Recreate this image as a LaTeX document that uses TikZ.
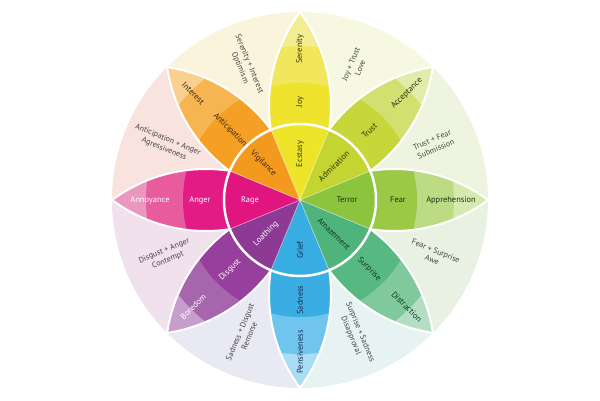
\documentclass[tikz,border=0pt]{standalone}
\usepackage{fontspec}
\setmainfont{PT Sans}

% Farben der Blütenblätter (1 = innen, 4 = Spitze)
\definecolor{joy1}{HTML}{EEE52A}\definecolor{joy2}{HTML}{F0E32E}\definecolor{joy3}{HTML}{F2E65C}\definecolor{joy4}{HTML}{F4EC93}
\definecolor{trust1}{HTML}{C4D430}\definecolor{trust2}{HTML}{C6D63B}\definecolor{trust3}{HTML}{D2E070}\definecolor{trust4}{HTML}{E2ECAA}
\definecolor{fear1}{HTML}{8CC43E}\definecolor{fear2}{HTML}{9BC845}\definecolor{fear3}{HTML}{BCDB84}\definecolor{fear4}{HTML}{D6E9AF}
\definecolor{surprise1}{HTML}{4FB47C}\definecolor{surprise2}{HTML}{57B882}\definecolor{surprise3}{HTML}{80C99C}\definecolor{surprise4}{HTML}{B3DEC3}
\definecolor{sadness1}{HTML}{37ADE2}\definecolor{sadness2}{HTML}{3AAEE3}\definecolor{sadness3}{HTML}{6FC5EE}\definecolor{sadness4}{HTML}{A9DCF5}
\definecolor{disgust1}{HTML}{8D3A95}\definecolor{disgust2}{HTML}{963F9C}\definecolor{disgust3}{HTML}{A765AD}\definecolor{disgust4}{HTML}{C79DCC}
\definecolor{anger1}{HTML}{E0157F}\definecolor{anger2}{HTML}{E31B84}\definecolor{anger3}{HTML}{E85C9E}\definecolor{anger4}{HTML}{EB98C0}
\definecolor{anticipation1}{HTML}{F39A1E}\definecolor{anticipation2}{HTML}{F5A024}\definecolor{anticipation3}{HTML}{F7B552}\definecolor{anticipation4}{HTML}{F9D08F}

% Farben der Dyaden
\definecolor{dyTrustFear}{HTML}{EEF4DF}
\definecolor{dyJoyTrust}{HTML}{F6F8E2}
\definecolor{dyJoyAnt}{HTML}{FBF4DC}
\definecolor{dyAntAnger}{HTML}{F8E3DF}
\definecolor{dyAngerDisg}{HTML}{F1E1EC}
\definecolor{dyDisgSad}{HTML}{E9E9F3}
\definecolor{dySadSurp}{HTML}{E7F2F2}
\definecolor{dySurpFear}{HTML}{E9F1E3}

% Schriftfarben
\definecolor{joytext}{HTML}{3D3A10}
\definecolor{anttext}{HTML}{3B2508}
\definecolor{trusttext}{HTML}{2B3310}
\definecolor{feartext}{HTML}{1F3312}
\definecolor{surptext}{HTML}{0C3A1F}
\definecolor{sadtext}{HTML}{152C55}
\definecolor{dyadtext}{HTML}{444444}

\tikzset{
  petal label/.style={font=\fontsize{8.4}{10}\selectfont, inner sep=1pt},
  dyad label/.style={font=\fontsize{8}{10}\selectfont, text=dyadtext, align=center, inner sep=1pt},
}

\begin{document}
\begin{tikzpicture}[x=1pt,y=1pt]
  \useasboundingbox (-300,-200) rectangle (300,200);

  % Dyaden (helle Sektoren)
  \foreach \w/\cl in {0/dyTrustFear, 45/dyJoyTrust, 90/dyJoyAnt, 135/dyAntAnger,
                      180/dyAngerDisg, 225/dyDisgSad, 270/dySadSurp, 315/dySurpFear}
    \fill[fill=\cl] (0,0) -- (\w:188) arc[start angle=\w, end angle=\w+45, radius=188] -- cycle;

  % Blütenblätter mit drei Ringen
  \foreach \w/\cl in {90/joy, 45/trust, 0/fear, -45/surprise, -90/sadness, -135/disgust, 180/anger, 135/anticipation} {
    \begin{scope}[rotate=\w]
      \clip (0,0) arc[start angle=126.5, end angle=53.5, radius=158]
                  arc[start angle=-53.5, end angle=-126.5, radius=158] -- cycle;
      \fill[fill=\cl4] (0,0) circle[radius=188];
      \fill[fill=\cl3] (0,0) circle[radius=154];
      \fill[fill=\cl2] (0,0) circle[radius=117];
    \end{scope}
    \draw[white, line width=2pt, rotate=\w] (0,0) arc[start angle=126.5, end angle=53.5, radius=158]
                  arc[start angle=-53.5, end angle=-126.5, radius=158] -- cycle;
  }

  % Innerer Kreis
  \foreach \w/\cl in {90/joy, 45/trust, 0/fear, -45/surprise, -90/sadness, -135/disgust, 180/anger, 135/anticipation}
    \fill[fill=\cl1] (0,0) -- ({\w-22.5}:76) arc[start angle=\w-22.5, end angle=\w+22.5, radius=76] -- cycle;
  \foreach \w in {22.5,67.5,...,337.5}
    \draw[white, opacity=0.6, line width=0.6pt] (0,0) -- (\w:76);
  \draw[white, line width=2.5pt] (0,0) circle[radius=76];

  % Beschriftung der Blütenblätter
  \node[petal label, text=joytext, rotate=90] (ecstasy) at (90:46) {Ecstasy};
  \node[petal label, text=joytext, rotate=90] (joy) at (90:98) {Joy};
  \node[petal label, text=joytext, rotate=90] (serenity) at (90:151) {Serenity};

  \node[petal label, text=trusttext, rotate=45] (admiration) at (45:48) {Admiration};
  \node[petal label, text=trusttext, rotate=45] (trust) at (45:98) {Trust};
  \node[petal label, text=trusttext, rotate=45] (acceptance) at (45:151) {Acceptance};

  \node[petal label, text=feartext] (terror) at (0:47) {Terror};
  \node[petal label, text=feartext] (fear) at (0:98) {Fear};
  \node[petal label, text=feartext] (apprehension) at (0:151) {Apprehension};

  \node[petal label, text=surptext, rotate=-45] (amazement) at (-45:48) {Amazement};
  \node[petal label, text=surptext, rotate=-45] (surprise) at (-45:98) {Surprise};
  \node[petal label, text=surptext, rotate=-45] (distraction) at (-45:151) {Distraction};

  \node[petal label, text=sadtext, rotate=90] (grief) at (-90:50) {Grief};
  \node[petal label, text=sadtext, rotate=90] (sadness) at (-90:100) {Sadness};
  \node[petal label, text=sadtext, rotate=90] (pensiveness) at (-90:152) {Pensiveness};

  \node[petal label, text=white, rotate=45] (loathing) at (-135:48) {Loathing};
  \node[petal label, text=white, rotate=45] (disgust) at (-135:99) {Disgust};
  \node[petal label, text=white, rotate=45] (boredom) at (-135:151) {Boredom};

  \node[petal label, text=white] (rage) at (180:50) {Rage};
  \node[petal label, text=white] (anger) at (180:100) {Anger};
  \node[petal label, text=white] (annoyance) at (180:150) {Annoyance};

  \node[petal label, text=anttext, rotate=-45] (vigilance) at (135:52) {Vigilance};
  \node[petal label, text=anttext, rotate=-45] (anticipation) at (135:99) {Anticipation};
  \node[petal label, text=anttext, rotate=-45] (interest) at (135:151) {Interest};

  % Beschriftung der Dyaden
  \node[dyad label, rotate=22.5] (submission) at (22.5:145) {Trust + Fear\\Submission};
  \node[dyad label, rotate=67.5] (love) at (67.5:145) {Joy + Trust\\Love};
  \node[dyad label, rotate=-67.5] (optimism) at (112.5:145) {Serenity + Interest\\Optimism};
  \node[dyad label, rotate=-22.5] (aggressiveness) at (157.5:145) {Anticipation + Anger\\Agressiveness};
  \node[dyad label, rotate=22.5] (contempt) at (-157.5:145) {Disgust + Anger\\Contempt};
  \node[dyad label, rotate=67.5] (remorse) at (-112.5:145) {Sadness + Disgust\\Remorse};
  \node[dyad label, rotate=-67.5] (disapproval) at (-67.5:145) {Surprise + Sadness\\Disapproval};
  \node[dyad label, rotate=-22.5] (awe) at (-22.5:145) {Fear + Surprise\\Awe};
\end{tikzpicture}
\end{document}
